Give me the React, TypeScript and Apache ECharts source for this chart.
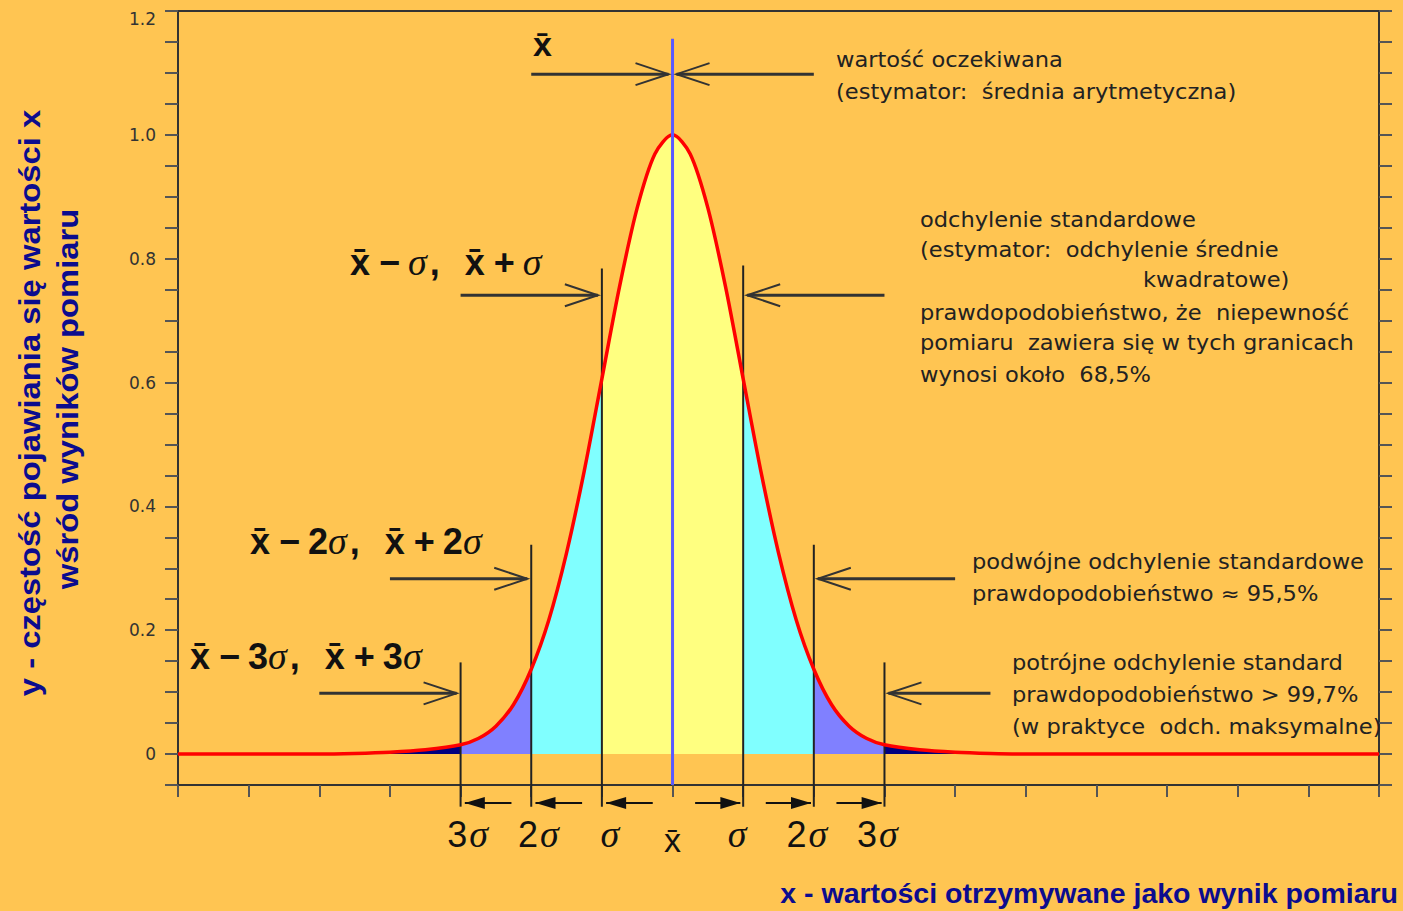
import React, { useEffect, useRef } from 'react';
import * as echarts from 'echarts';

// ---- data ----
const MEAN = 7;
const X_MIN = 0;
const X_MAX = 17;
const Y_MIN = -0.05;
const Y_MAX = 1.2;

const curveX = [0, 1, 2, 2.5, 3, 3.5, 4, 4.25, 4.5, 4.75, 5, 5.25, 5.5, 5.75, 6, 6.25, 6.5, 6.75, 7,
  7.25, 7.5, 7.75, 8, 8.25, 8.5, 8.75, 9, 9.25, 9.5, 9.75, 10, 10.5, 11, 11.5, 12, 13, 14, 15, 16, 17];
const curveY = [0, 0, 0, 0.001, 0.003, 0.007, 0.015, 0.025, 0.045, 0.08, 0.137, 0.217, 0.325, 0.457, 0.606, 0.755, 0.882, 0.969, 1.0,
  0.969, 0.882, 0.755, 0.606, 0.457, 0.325, 0.217, 0.137, 0.08, 0.045, 0.025, 0.015, 0.007, 0.003, 0.001, 0, 0, 0, 0, 0, 0];

const bandEdges = [0, 4, 5, 6, 8, 9, 10, 17];
const bandColors = ['#000080', '#8080FF', '#80FFFF', '#FFFF80', '#80FFFF', '#8080FF', '#000080'];

const sigmaOffsets = [-3, -2, -1, 1, 2, 3];
const sigmaLineTops = [0.148, 0.338, 0.784, 0.789, 0.338, 0.148];
const sigmaLineBottom = -0.085;
const meanLineTop = 1.155;

// annotation arrows: level (y value) for k = 0..3 and tail lengths (x units)
const arrowLevels = [1.098, 0.741, 0.283, 0.098];
const arrowLeftLen = [2, 2, 2, 2];
const arrowRightLen = [2, 2, 2, 1.5];

const bottomLabels = ['3', '2', '', 'x', '', '2', '3'];
const formulaMultipliers = ['', '2', '3'];

const textBlocks: { x: number; y: number; t: string }[] = [
  { x: 836, y: 60, t: 'wartość oczekiwana' },
  { x: 836, y: 92, t: '(estymator:  średnia arytmetyczna)' },
  { x: 920, y: 220, t: 'odchylenie standardowe' },
  { x: 920, y: 250, t: '(estymator:  odchylenie średnie' },
  { x: 1143, y: 280, t: 'kwadratowe)' },
  { x: 920, y: 313, t: 'prawdopodobieństwo, że  niepewność' },
  { x: 920, y: 343, t: 'pomiaru  zawiera się w tych granicach' },
  { x: 920, y: 375, t: 'wynosi około  68,5%' },
  { x: 972, y: 562, t: 'podwójne odchylenie standardowe' },
  { x: 972, y: 594, t: 'prawdopodobieństwo ≈ 95,5%' },
  { x: 1012, y: 663, t: 'potrójne odchylenie standard' },
  { x: 1012, y: 695, t: 'prawdopodobieństwo > 99,7%' },
  { x: 1012, y: 727, t: '(w praktyce  odch. maksymalne)' },
];

const yTitle1 = 'y - częstość pojawiania się wartości x';
const yTitle2 = 'wśród wyników pomiaru';
const xTitle = 'x - wartości otrzymywane jako wynik pomiaru';

const BG = '#FFC552';
const NAVY = '#0c0c8e';
const TXT = '#222222';

export default function App() {
  const ref = useRef<HTMLDivElement>(null);
  useEffect(() => {
    const chart = echarts.init(ref.current!, null, { renderer: 'svg' });
    const pts = curveX.map((x, i) => [x, curveY[i]]);
    const bandSeries = bandColors.map((c, i) => ({
      type: 'line',
      data: pts.filter((p) => p[0] >= bandEdges[i] && p[0] <= bandEdges[i + 1]),
      smooth: 0.3,
      symbol: 'none',
      lineStyle: { width: 0 },
      areaStyle: { color: c, opacity: 1 },
      z: 1,
      silent: true,
    }));
    const sigmaSeries = sigmaOffsets.map((k, i) => ({
      type: 'line',
      data: [[MEAN + k, sigmaLineTops[i]], [MEAN + k, sigmaLineBottom]],
      clip: false,
      symbol: 'none',
      lineStyle: { color: '#222', width: 2 },
      z: 3,
      silent: true,
    }));
    const yLabelFmt = (v: number) => {
      const r = Math.round(v * 100);
      if (r < 0 || r % 20 !== 0) return '';
      if (r === 120) return '{t|1.2}';
      return r === 0 ? '0' : (r / 100).toFixed(1);
    };
    const axisCommon = {
      type: 'value',
      min: Y_MIN,
      max: Y_MAX,
      interval: 0.05,
      splitLine: { show: false },
      axisLine: { show: true, lineStyle: { color: '#333', width: 2 } },
      axisTick: { show: true, length: 13, lineStyle: { color: '#555', width: 2 } },
    };
    chart.setOption({
      animation: false,
      backgroundColor: BG,
      grid: { left: 178, right: 24, top: 11, bottom: 126, show: true, borderColor: '#333', borderWidth: 2 },
      xAxis: {
        type: 'value',
        min: X_MIN,
        max: X_MAX,
        interval: 1,
        axisLine: { onZero: false, lineStyle: { color: '#333', width: 2 } },
        axisTick: { length: 12, lineStyle: { color: '#555', width: 2 } },
        axisLabel: { show: false },
        splitLine: { show: false },
      },
      yAxis: [
        {
          ...axisCommon,
          position: 'left',
          axisLabel: {
            formatter: yLabelFmt,
            color: '#333',
            fontSize: 17,
            fontFamily: 'DejaVu Sans',
            margin: 22,
            rich: { t: { fontSize: 17, fontFamily: 'DejaVu Sans', color: '#333', padding: [16, 0, 0, 0] } },
          },
        },
        { ...axisCommon, position: 'right', axisLabel: { show: false } },
      ],
      series: [
        ...bandSeries,
        ...sigmaSeries,
        {
          type: 'line',
          data: pts,
          smooth: 0.3,
          symbol: 'none',
          lineStyle: { color: '#FF0000', width: 3.5 },
          z: 4,
          silent: true,
        },
        {
          type: 'line',
          data: [[MEAN, meanLineTop], [MEAN, Y_MIN]],
          clip: false,
          symbol: 'none',
          lineStyle: { color: '#5a5aff', width: 3 },
          z: 5,
          silent: true,
        },
      ],
    });

    const px = (x: number, y: number) => chart.convertToPixel({ gridIndex: 0 }, [x, y]) as number[];
    const g: any[] = [];

    // open-head arrows at levels
    const openArrow = (xTail: number, xTip: number, y: number) => {
      const dir = xTip > xTail ? 1 : -1;
      g.push({ type: 'line', shape: { x1: xTail, y1: y, x2: xTip, y2: y }, style: { stroke: '#333', lineWidth: 3 }, z: 10 });
      g.push({
        type: 'polyline',
        shape: { points: [[xTip - dir * 33, y - 11], [xTip, y], [xTip - dir * 33, y + 11]] },
        style: { stroke: '#333', lineWidth: 2, fill: null },
        z: 10,
      });
    };
    arrowLevels.forEach((lv, k) => {
      const [xl, yy] = px(MEAN - k - arrowLeftLen[k], lv);
      const [xlTip] = px(MEAN - k, lv);
      openArrow(xl, xlTip - 4, yy);
      const [xr] = px(MEAN + k + arrowRightLen[k], lv);
      const [xrTip] = px(MEAN + k, lv);
      openArrow(xr, xrTip + 4, yy);
    });

    // filled arrows below the axis
    const baseY = px(0, Y_MIN)[1] + 18;
    const filledArrow = (xTail: number, xTip: number) => {
      const dir = xTip > xTail ? 1 : -1;
      g.push({ type: 'line', shape: { x1: xTail, y1: baseY, x2: xTip, y2: baseY }, style: { stroke: '#111', lineWidth: 2 }, z: 10 });
      g.push({
        type: 'polygon',
        shape: { points: [[xTip, baseY], [xTip - dir * 20, baseY - 6], [xTip - dir * 20, baseY + 6]] },
        style: { fill: '#111' },
        z: 10,
      });
    };
    for (let k = 1; k <= 3; k++) {
      filledArrow(px(MEAN - k + 1 - 0.28, 0)[0], px(MEAN - k + 0.06, 0)[0]);
      filledArrow(px(MEAN + k - 1 + 0.32, 0)[0], px(MEAN + k - 0.04, 0)[0]);
    }

    // bottom labels
    const labRich = {
      n: { fontFamily: 'Liberation Sans', fontSize: 36, fill: '#111' },
      s: { fontFamily: 'Liberation Serif', fontStyle: 'italic', fontSize: 38, fill: '#111', padding: [0, 0, 0, 2] },
      x: { fontFamily: 'Liberation Sans', fontSize: 34, fill: '#111' },
    };
    bottomLabels.forEach((b, i) => {
      const k = i - 3;
      const xx = px(MEAN + k - Math.sign(k) * 0.1, 0)[0];
      const text = b === 'x' ? '{x|x\u0304}' : `{n|${b}}{s|σ}`;
      g.push({
        type: 'text',
        x: xx,
        y: b === 'x' ? 840 : 834,
        style: { text, rich: labRich, align: 'center', verticalAlign: 'middle' },
        z: 10,
      });
    });

    // big formulas
    const bigRich = {
      b: { fontFamily: 'Liberation Sans', fontWeight: 'bold', fontSize: 36, fill: '#111' },
      op: { fontFamily: 'Liberation Sans', fontWeight: 'bold', fontSize: 36, fill: '#111', padding: [0, 8, 0, 9] },
      s: { fontFamily: 'Liberation Serif', fontStyle: 'italic', fontSize: 38, fill: '#111' },
      c: { fontFamily: 'Liberation Sans', fontWeight: 'bold', fontSize: 36, fill: '#111', padding: [0, 25, 0, 3] },
    };
    const formula = (n: string) => {
      const num = n ? `{b|${n}}` : '';
      return `{b|x\u0304}{op|−}${num}{s|σ}{c|,}{b|x\u0304}{op|+}${num}{s|σ}`;
    };
    const formulaPos = [[350, 262], [250, 541], [190, 656]];
    formulaPos.forEach(([fx, fy], i) => {
      g.push({
        type: 'text',
        x: fx,
        y: fy,
        style: { text: formula(formulaMultipliers[i]), rich: bigRich, align: 'left', verticalAlign: 'middle' },
        z: 10,
      });
    });
    g.push({
      type: 'text',
      x: 533,
      y: 44,
      style: { text: 'x\u0304', fontFamily: 'Liberation Sans', fontWeight: 'bold', fontSize: 34, fill: '#111', align: 'left', verticalAlign: 'middle' },
      z: 10,
    });

    // text blocks
    textBlocks.forEach((b) => {
      g.push({
        type: 'text',
        x: b.x,
        y: b.y,
        scaleX: 1.1,
        style: { text: b.t, fontFamily: 'DejaVu Sans', fontSize: 20.5, fill: TXT, align: 'left', verticalAlign: 'middle' },
        z: 10,
      });
    });

    // axis titles
    g.push({
      type: 'text',
      x: 30,
      y: 403,
      rotation: Math.PI / 2,
      scaleX: 1.13,
      style: { text: yTitle1, fontFamily: 'Liberation Sans', fontWeight: 'bold', fontSize: 29, fill: NAVY, align: 'center', verticalAlign: 'middle' },
      z: 10,
    });
    g.push({
      type: 'text',
      x: 68,
      y: 399,
      rotation: Math.PI / 2,
      scaleX: 1.13,
      style: { text: yTitle2, fontFamily: 'Liberation Sans', fontWeight: 'bold', fontSize: 29, fill: NAVY, align: 'center', verticalAlign: 'middle' },
      z: 10,
    });
    g.push({
      type: 'text',
      x: 1398,
      y: 893,
      style: { text: xTitle, fontFamily: 'Liberation Sans', fontWeight: 'bold', fontSize: 28.5, fill: NAVY, align: 'right', verticalAlign: 'middle' },
      z: 10,
    });

    chart.setOption({ graphic: g });
    return () => chart.dispose();
  }, []);
  return (
    <div
      ref={ref}
      style={{ position: 'fixed', left: 0, top: 0, width: 1403, height: 911, background: BG }}
    />
  );
}
